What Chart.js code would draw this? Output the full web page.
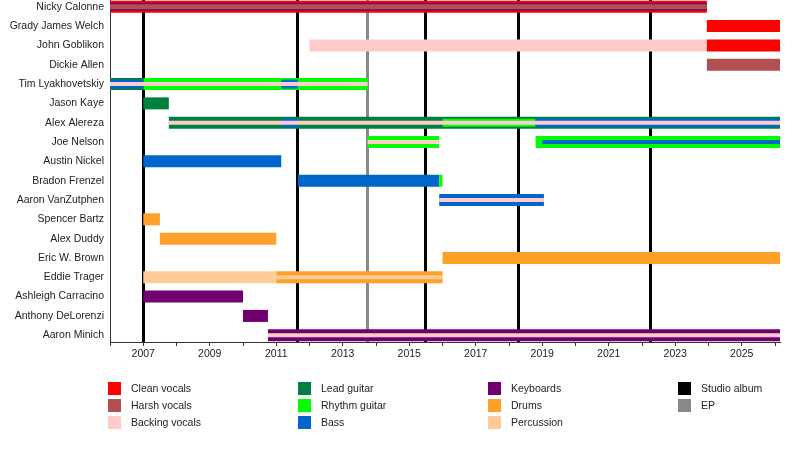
<!DOCTYPE html>
<html><head><meta charset="utf-8">
<script src="https://cdn.jsdelivr.net/npm/chart.js@4"></script>
<style>html,body{margin:0;padding:0;background:#fff}canvas{display:block}</style>
</head><body>
<canvas id="c" width="800" height="450"></canvas>
<script>
// ---- data ----
const members = ['Nicky Calonne','Grady James Welch','John Goblikon','Dickie Allen','Tim Lyakhovetskiy','Jason Kaye','Alex Alereza','Joe Nelson','Austin Nickel','Bradon Frenzel','Aaron VanZutphen','Spencer Bartz','Alex Duddy','Eric W. Brown','Eddie Trager','Ashleigh Carracino','Anthony DeLorenzi','Aaron Minich'];
const START = 2006;
const NOW = 2026.15;
const allYears = [2006,2007,2008,2009,2010,2011,2012,2013,2014,2015,2016,2017,2018,2019,2020,2021,2022,2023,2024,2025,2026];
const labeledYears = [2007,2009,2011,2013,2015,2017,2019,2021,2023,2025];
const studioAlbums = [2007.0, 2011.63, 2015.47, 2018.27, 2022.23];
const eps = [2013.73];

const roleNames = ['Clean vocals','Harsh vocals','Backing vocals','Lead guitar','Rhythm guitar','Bass','Keyboards','Drums','Percussion','Studio album','EP'];
const roleColors = ['#FF0000','#B05050','#FFCCCC','#00803F','#00FF00','#0066CC','#700070','#FFA028','#FFCC99','#000000','#888888'];

// [member index, start, end] - main roles
const cleanVocals = [[0,2006,2023.95],[1,2023.95,NOW],[2,2023.95,NOW]];
const harshVocals = [[3,2023.95,NOW]];
const backingVocals = [[2,2012.0,2023.95]];
const leadGuitar = [[4,2006,2007.0],[5,2007.0,2007.77],[6,2007.77,NOW]];
const rhythmGuitar = [[4,2007.0,2013.75],[7,2013.75,2015.9],[7,2018.8,NOW],[9,2015.9,2016.0]];
const bass = [[8,2007.0,2011.15],[9,2011.65,2015.9],[10,2015.9,2019.05]];
const keyboards = [[15,2007.0,2010.0],[16,2010.0,2010.75],[17,2010.75,NOW]];
const drums = [[11,2007.0,2007.5],[12,2007.5,2011.0],[13,2016.0,NOW],[14,2011.0,2016.0]];
const percussion = [[14,2007.0,2011.0]];
// secondary roles
const keyboardsSecondary = [[0,2006,2023.95]];
const bassSecondary = [[4,2006,2007.0],[4,2011.15,2011.65],[6,2011.15,2011.65],[6,2018.8,NOW]];
const rhythmSecondary = [[6,2016.0,2018.8]];
// minor roles (thin centre line)
const harshVocalsMinor = [[0,2006,2023.95]];
const backingVocalsMinor = [[4,2006,2013.75],[6,2007.77,NOW],[7,2013.75,2015.9],[10,2015.9,2019.05],[17,2010.75,NOW]];
const percussionMinor = [[14,2011.0,2016.0]];
const bassMinor = [[7,2019.0,NOW]];

// ---- build ----
function makeSet(label, spans, color, thickness, order) {
  return {
    label, order,
    data: spans.map(s => ({x: [s[1], s[2]], y: s[0]})),
    backgroundColor: color,
    borderWidth: 0,
    grouped: false,
    maxBarThickness: thickness,
    inflateAmount: 0
  };
}
const T = 12, M = 8, S = 4;
const datasets = [
  makeSet('Clean vocals', cleanVocals, roleColors[0], T, 3),
  makeSet('Harsh vocals', harshVocals, roleColors[1], T, 3),
  makeSet('Backing vocals', backingVocals, roleColors[2], T, 3),
  makeSet('Lead guitar', leadGuitar, roleColors[3], T, 3),
  makeSet('Rhythm guitar', rhythmGuitar, roleColors[4], T, 3),
  makeSet('Bass', bass, roleColors[5], T, 3),
  makeSet('Keyboards', keyboards, roleColors[6], T, 3),
  makeSet('Drums', drums, roleColors[7], T, 3),
  makeSet('Percussion', percussion, roleColors[8], T, 3),
  makeSet('Keyboards 2', keyboardsSecondary, roleColors[6], M, 2),
  makeSet('Bass 2', bassSecondary, roleColors[5], 9, 2),
  makeSet('Rhythm 2', rhythmSecondary, roleColors[4], M, 2),
  makeSet('Harsh 3', harshVocalsMinor, roleColors[1], 5, 1),
  makeSet('Backing 3', backingVocalsMinor, roleColors[2], S, 1),
  makeSet('Percussion 3', percussionMinor, roleColors[8], S, 1),
  makeSet('Bass 3', bassMinor, roleColors[5], S, 1)
];

const FONT = {family: "'Liberation Sans', Arial, sans-serif", size: 10.5};

const albumLines = {
  id: 'albumLines',
  beforeDatasetsDraw(chart) {
    const {ctx, chartArea, scales} = chart;
    ctx.save();
    ctx.lineWidth = 3;
    const draw = (arr, color) => {
      ctx.strokeStyle = color;
      arr.forEach(v => {
        const x = Math.round(scales.x.getPixelForValue(v)) + 0.5;
        ctx.beginPath();
        ctx.moveTo(x, chartArea.top);
        ctx.lineTo(x, chartArea.bottom);
        ctx.stroke();
      });
    };
    draw(studioAlbums, roleColors[9]);
    draw(eps, roleColors[10]);
    ctx.restore();
  }
};

const legendPlugin = {
  id: 'gridLegend',
  afterDraw(chart) {
    const ctx = chart.ctx;
    const cols = [108, 298, 488, 678];
    const rows = [382, 399, 416];
    ctx.save();
    ctx.font = `${FONT.size}px ${FONT.family}`;
    ctx.textBaseline = 'middle';
    roleNames.forEach((name, i) => {
      const c = Math.floor(i / 3), r = i % 3;
      const x = cols[c], y = rows[r];
      ctx.fillStyle = roleColors[i];
      ctx.fillRect(x, y, 13, 13);
      ctx.fillStyle = '#222';
      ctx.fillText(name, x + 23, y + 7);
    });
    ctx.restore();
  }
};

new Chart(document.getElementById('c'), {
  type: 'bar',
  data: {datasets},
  options: {
    indexAxis: 'y',
    responsive: false,
    animation: false,
    events: [],
    layout: {padding: {left: 0, right: 20, top: 0, bottom: 83}},
    plugins: {legend: {display: false}, tooltip: {enabled: false}},
    scales: {
      x: {
        type: 'linear',
        min: START, max: NOW,
        offset: false,
        afterBuildTicks: s => { s.ticks = allYears.map(v => ({value: v})); },
        afterFit: s => { s.height = 25; s.paddingLeft = 0; s.paddingRight = 0; },
        ticks: {
          autoSkip: false, maxRotation: 0, padding: 2, color: '#222', font: FONT,
          callback: v => labeledYears.includes(v) ? String(v) : ''
        },
        grid: {drawOnChartArea: false, drawTicks: true, tickLength: 4, color: '#333', offset: false},
        border: {display: true, color: '#333', width: 1}
      },
      y: {
        type: 'linear',
        reverse: true,
        offset: false,
        min: -0.35, max: 17.35,
        afterBuildTicks: s => { s.ticks = members.map((_, i) => ({value: i})); },
        afterFit: s => { s.width = 110; s.paddingTop = 0; s.paddingBottom = 0; },
        ticks: {
          autoSkip: false, padding: 6, color: '#222', font: FONT,
          callback: v => members[v]
        },
        grid: {drawOnChartArea: false, drawTicks: false, offset: false},
        border: {display: true, color: '#333', width: 1}
      }
    }
  },
  plugins: [albumLines, legendPlugin]
});
</script>
</body></html>
